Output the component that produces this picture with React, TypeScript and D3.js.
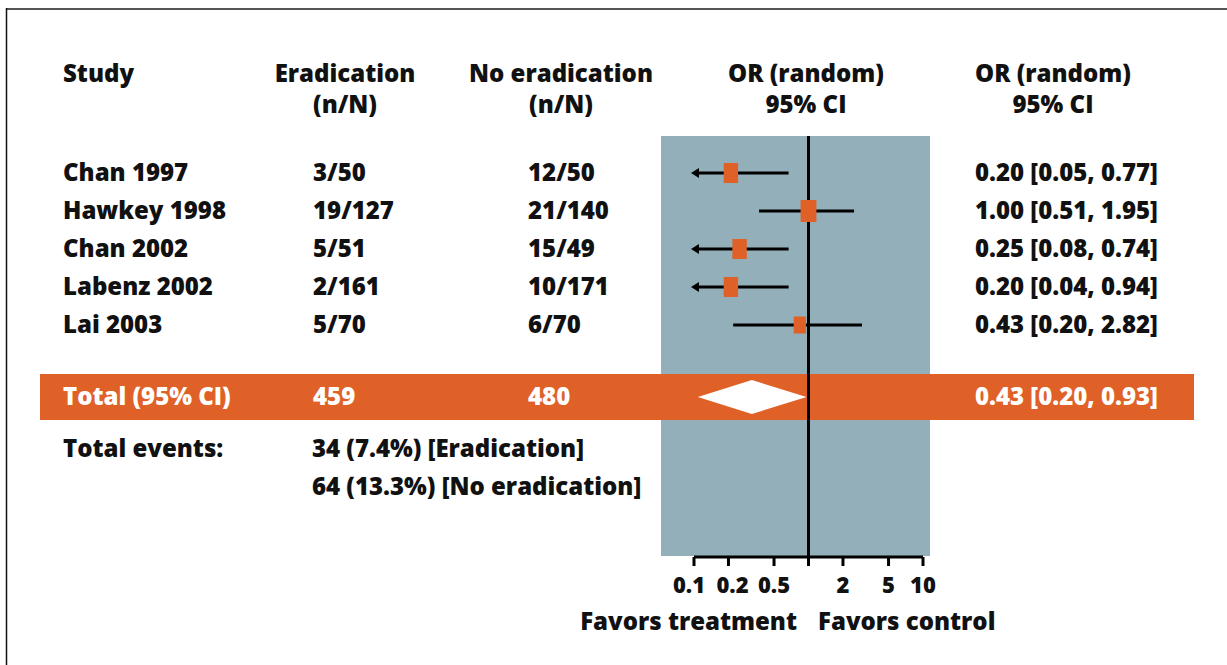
import React, { useEffect, useRef } from "react";
import * as d3 from "d3";

// study rows
const studies = ["Chan 1997", "Hawkey 1998", "Chan 2002", "Labenz 2002", "Lai 2003"];
const eradication = ["3/50", "19/127", "5/51", "2/161", "5/70"];
const noEradication = ["12/50", "21/140", "15/49", "10/171", "6/70"];
const orText = [
  "0.20 [0.05, 0.77]",
  "1.00 [0.51, 1.95]",
  "0.25 [0.08, 0.74]",
  "0.20 [0.04, 0.94]",
  "0.43 [0.20, 2.82]",
];
// positions as drawn in the figure (odds ratio scale)
const orPoint = [0.21, 1.0, 0.25, 0.21, 0.84];
const ciLow = [0.05, 0.37, 0.08, 0.04, 0.22];
const ciHigh = [0.67, 2.5, 0.67, 0.67, 2.93];
const weight = [20, 22, 20, 20, 17];

// total row
const totalLabel = ["Total (95% CI)", "459", "480", "0.43 [0.20, 0.93]"];
const totalDiamond = [0.108, 0.32, 0.96]; // low, mid, high as drawn
const totalEvents = ["34 (7.4%) [Eradication]", "64 (13.3%) [No eradication]"];

const ticks = [0.1, 0.2, 0.5, 1, 2, 5, 10];
const tickLabels = ["0.1", "0.2", "0.5", "", "2", "5", "10"];

const ORANGE = "#E06128";
const SHADE = "#93AFBA";
const FONT = "'Open Sans', 'Noto Sans', sans-serif";

const App = () => {
  const ref = useRef<SVGSVGElement>(null);

  useEffect(() => {
    const svg = d3.select(ref.current);
    svg.selectAll("*").remove();

    const x = d3.scaleLog().domain([0.1, 10]).range([694, 923]);
    const y = d3.scaleLinear().domain([0, studies.length - 1]).range([173, 325]);
    const boxH = d3.scaleLinear().domain([0, 22]).range([0, 22]);

    // frame
    svg.append("line").attr("x1", 6).attr("x2", 1227).attr("y1", 9).attr("y2", 9)
      .attr("stroke", "#555").attr("stroke-width", 2);
    svg.append("line").attr("x1", 6.5).attr("x2", 6.5).attr("y1", 8).attr("y2", 665)
      .attr("stroke", "#111").attr("stroke-width", 1.5);

    // shaded plot region
    svg.append("rect").attr("x", 661).attr("y", 136).attr("width", 269).attr("height", 420)
      .attr("fill", SHADE);

    // total band
    svg.append("rect").attr("x", 40).attr("y", 374).attr("width", 1154).attr("height", 46)
      .attr("fill", ORANGE);

    const text = (s: string, tx: number, ty: number, anchor = "start", fill = "#111", size = 24) =>
      svg.append("text").attr("x", tx).attr("y", ty).attr("text-anchor", anchor)
        .attr("fill", fill).attr("font-family", FONT).attr("font-weight", 800)
        .attr("font-size", size).text(s);

    // headers
    text("Study", 63, 82);
    text("Eradication", 345, 82, "middle");
    text("(n/N)", 345, 113, "middle");
    text("No eradication", 561, 82, "middle");
    text("(n/N)", 561, 113, "middle");
    text("OR (random)", 806, 82, "middle");
    text("95% CI", 806, 113, "middle");
    text("OR (random)", 1053, 82, "middle");
    text("95% CI", 1053, 113, "middle");

    // study rows text
    studies.forEach((s, i) => {
      const ty = y(i) + 8;
      text(s, 63, ty);
      text(eradication[i], 313, ty);
      text(noEradication[i], 528, ty);
      text(orText[i], 975, ty);
    });

    // total row text
    const tY = 405;
    text(totalLabel[0], 63, tY, "start", "#fff");
    text(totalLabel[1], 313, tY, "start", "#fff");
    text(totalLabel[2], 528, tY, "start", "#fff");
    text(totalLabel[3], 975, tY, "start", "#fff");

    text("Total events:", 63, 457);
    text(totalEvents[0], 312, 457);
    text(totalEvents[1], 312, 495);

    // diamond
    const dy = 397;
    svg.append("path")
      .attr("d", d3.line()([
        [x(totalDiamond[0]), dy],
        [x(totalDiamond[1]), dy - 17],
        [x(totalDiamond[2]), dy],
        [x(totalDiamond[1]), dy + 17],
      ]) + "Z")
      .attr("fill", "#fff");

    // line of no effect
    svg.append("line").attr("x1", x(1)).attr("x2", x(1)).attr("y1", 136).attr("y2", 557)
      .attr("stroke", "#000").attr("stroke-width", 3);

    // CIs and boxes
    studies.forEach((_, i) => {
      const cy = y(i);
      const clipped = ciLow[i] < 0.1;
      const lo = clipped ? x(0.1) + 4 : x(ciLow[i]);
      svg.append("line").attr("x1", lo).attr("x2", x(ciHigh[i])).attr("y1", cy).attr("y2", cy)
        .attr("stroke", "#000").attr("stroke-width", 3.2);
      if (clipped) {
        const tip = x(0.1) - 3;
        svg.append("path")
          .attr("d", `M${tip},${cy}L${tip + 8},${cy - 5}L${tip + 8},${cy + 5}Z`)
          .attr("fill", "#000");
      }
      const h = boxH(weight[i]);
      const w = h * 0.72;
      svg.append("rect")
        .attr("x", x(orPoint[i]) - w / 2).attr("y", cy - h / 2)
        .attr("width", w).attr("height", h).attr("fill", ORANGE);
    });

    // axis
    const axisY = 557;
    svg.append("line").attr("x1", x(0.1)).attr("x2", x(10)).attr("y1", axisY).attr("y2", axisY)
      .attr("stroke", "#000").attr("stroke-width", 3);
    ticks.forEach((t, i) => {
      svg.append("line").attr("x1", x(t)).attr("x2", x(t)).attr("y1", axisY).attr("y2", axisY + 9)
        .attr("stroke", "#000").attr("stroke-width", 3);
      // the first two labels are spread apart a little in the figure
      const dx = i === 0 ? -5 : i === 1 ? 4 : 0;
      if (tickLabels[i]) text(tickLabels[i], x(t) + dx, 593, "middle", "#111", 22);
    });

    text("Favors treatment", 797, 630, "end");
    text("Favors control", 818, 630, "start");
  }, []);

  return (
    <svg
      ref={ref}
      width={1227}
      height={665}
      style={{ position: "absolute", left: 0, top: 0, background: "#fff" }}
    />
  );
};

export default App;
